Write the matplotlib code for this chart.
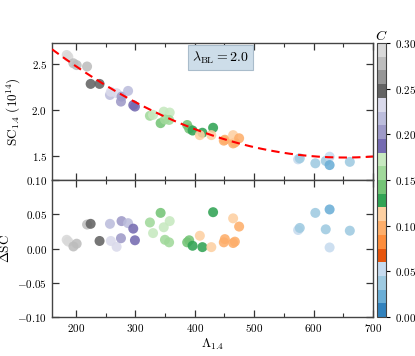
import numpy as np
import matplotlib
matplotlib.use("Agg")
import matplotlib.pyplot as plt
from matplotlib.colors import Normalize
from matplotlib.ticker import MultipleLocator

plt.rcParams.update({
    "font.family": "serif",
    "font.serif": ["cmr10", "DejaVu Serif"],
    "mathtext.fontset": "cm",
    "axes.formatter.use_mathtext": True,
    "axes.unicode_minus": True,
})

# ---- data ----
lam = [184.7, 187.5, 196.0, 201.5, 219.0, 225.0, 240.0,
       257.5, 259.0, 268.7, 276.0, 277.0, 288.0, 296.7, 299.5,
       324.7, 330.0, 342.7, 348.0, 358.0, 350.0, 357.0,
       387.4, 390.8, 396.5, 413.0, 431.0,
       408.7, 428.0, 450.8, 449.0, 464.7, 467.6, 464.7, 474.8,
       574.0, 576.8, 603.0, 620.5, 627.0, 627.0, 661.0]
sc = [2.60, 2.58, 2.51, 2.49, 2.475, 2.286, 2.286,
      2.166, 2.20, 2.185, 2.094, 2.148, 2.21, 2.056, 2.04,
      1.94, 1.95, 1.86, 1.985, 1.975, 1.90, 1.895,
      1.84, 1.80, 1.78, 1.756, 1.81,
      1.73, 1.73, 1.68, 1.67, 1.64, 1.65, 1.73, 1.696,
      1.467, 1.478, 1.424, 1.45, 1.496, 1.405, 1.44]
dsc = [0.0127, 0.010, 0.003, 0.007, 0.035, 0.036, 0.011,
       0.036, 0.011, 0.0025, 0.015, 0.040, 0.037, 0.029, 0.012,
       0.038, 0.0225, 0.052, 0.031, 0.040, 0.0127, 0.009,
       0.009, 0.012, 0.004, 0.002, 0.053,
       0.0186, 0.002, 0.0137, 0.009, 0.008, 0.010, 0.044, 0.032,
       0.027, 0.030, 0.052, 0.028, 0.0015, 0.057, 0.026]
comp = [0.29, 0.29, 0.28, 0.28, 0.275, 0.25, 0.25,
        0.215, 0.23, 0.23, 0.20, 0.20, 0.215, 0.19, 0.19,
        0.155, 0.17, 0.14, 0.17, 0.17, 0.155, 0.155,
        0.14, 0.14, 0.13, 0.13, 0.13,
        0.11, 0.11, 0.10, 0.10, 0.10, 0.10, 0.11, 0.10,
        0.05, 0.04, 0.04, 0.04, 0.05, 0.025, 0.04]

# samples
fit_lam = [160, 244, 326, 417, 500, 577, 661, 700]
fit_sc = [2.663, 2.31, 1.97, 1.767, 1.61, 1.514, 1.485, 1.496]
lambda_bl = 2.0

# ---- figure ----
W, H = 415, 356
fig = plt.figure(figsize=(W / 100, H / 100), dpi=100)
left, width = 52 / W, 321 / W
ax1 = fig.add_axes([left, 1 - 180 / H, width, 137 / H])
ax2 = fig.add_axes([left, 1 - 317 / H, width, 137 / H], sharex=ax1)
cax = fig.add_axes([377 / W, 1 - 317 / H, 9 / W, 274 / H])

cmap = plt.get_cmap("tab20c")
norm = Normalize(vmin=0.0, vmax=0.3)

ax1.scatter(lam, sc, c=comp, cmap=cmap, norm=norm, s=52,
            alpha=0.88, edgecolors="none", zorder=2)
ax2.scatter(lam, dsc, c=comp, cmap=cmap, norm=norm, s=52,
            alpha=0.88, edgecolors="none", zorder=2)

coef = np.polyfit(fit_lam, fit_sc, 2)
xx = np.linspace(160, 700, 300)
ax1.plot(xx, np.polyval(coef, xx), ls="--", color="red", lw=1.5,
         dashes=(4, 2.5), zorder=3)

ax1.text(0.526, 0.895, r"$\lambda_{\rm BL} = %.1f$" % lambda_bl,
         transform=ax1.transAxes, ha="center", va="center", fontsize=10,
         bbox=dict(boxstyle="square,pad=0.3", facecolor="#cddde9",
                   edgecolor="#a9bccb", lw=0.8))

ax1.set_xlim(160, 700)
ax1.set_ylim(1.243, 2.73)
ax2.set_ylim(-0.1, 0.1)
ax1.yaxis.set_major_locator(MultipleLocator(0.5))
ax2.yaxis.set_major_locator(MultipleLocator(0.05))
ax1.xaxis.set_major_locator(MultipleLocator(100))
ax1.xaxis.set_minor_locator(MultipleLocator(50))

for ax in (ax1, ax2):
    ax.tick_params(which="both", direction="in", top=True, right=True,
                   labelsize=8, colors="#333333", labelcolor="black")
    ax.tick_params(which="major", length=5, width=0.9)
    ax.tick_params(which="minor", length=3, width=0.8)
    for s in ax.spines.values():
        s.set_color("#444444")
        s.set_linewidth(1.0)
ax1.tick_params(labelbottom=False)

ax1.set_ylabel(r"$\mathrm{SC}_{1.4}\ (10^{14})$", fontsize=9.5, labelpad=6)
ax2.set_ylabel(r"$\Delta\mathrm{SC}$", fontsize=9.5, labelpad=4)
ax2.set_xlabel(r"$\Lambda_{1.4}$", fontsize=9.5, labelpad=2)

cb = fig.colorbar(plt.cm.ScalarMappable(norm=norm, cmap=cmap), cax=cax)
cb.set_ticks(np.arange(0, 0.31, 0.05))
cb.ax.tick_params(labelsize=8, direction="out", length=3)
cb.outline.set_edgecolor("#444444")
cax.set_title(r"$C$", fontsize=10, pad=2)

fig.savefig("out.png", dpi=100)
